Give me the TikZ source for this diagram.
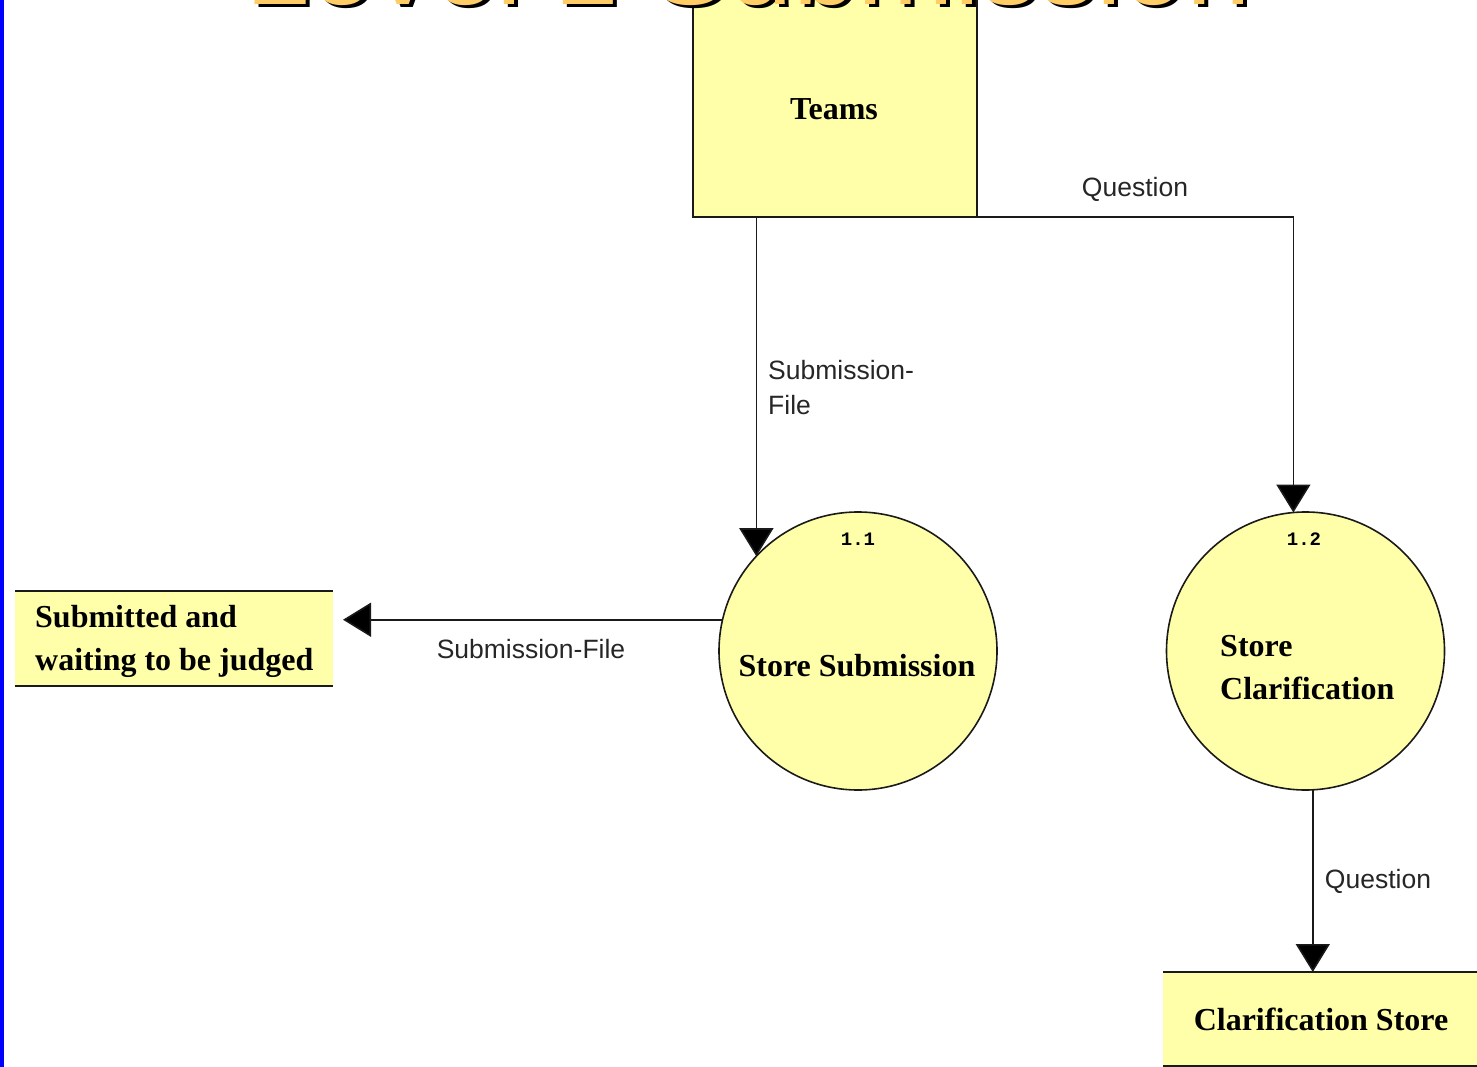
\documentclass[tikz,border=0pt]{standalone}
\usepackage{fontspec}
\setmainfont{Liberation Serif}
\setsansfont{Liberation Sans}
\setmonofont{Liberation Mono}
\usetikzlibrary{arrows.meta}
\definecolor{boxfill}{HTML}{FFFFAA}
\definecolor{titleor}{HTML}{FFCC66}
\definecolor{edgecol}{HTML}{1A1A1A}
\definecolor{barblue}{HTML}{0000FF}
\tikzset{
  entity/.style={draw=edgecol, line width=1.6pt, fill=boxfill, inner sep=0pt, outer sep=0pt},
  procnode/.style={circle, draw=edgecol, line width=1.6pt, fill=boxfill, inner sep=0pt, outer sep=0pt, minimum size=278pt},
  storenode/.style={fill=boxfill, inner sep=0pt, outer sep=0pt},
  storeline/.style={draw=edgecol, line width=1.6pt},
  bigtxt/.style={font=\bfseries\fontsize{32}{43}\selectfont, inner sep=0pt},
  flowlbl/.style={font=\sffamily\fontsize{26.5}{35}\selectfont, text=black!85, inner sep=0pt},
  numlbl/.style={font=\ttfamily\bfseries\fontsize{19}{19}\selectfont, inner sep=0pt},
  flow/.style={draw=edgecol, line width=1.6pt, -{Triangle[width=34pt,length=28pt,fill=black]}},
  titletxt/.style={font=\sffamily\fontsize{116}{116}\selectfont, inner sep=0pt, anchor=base west}
}
\begin{document}
\begin{tikzpicture}[x=1pt,y=-1pt]
\useasboundingbox (0,0) rectangle (1477,1067);
\clip (0,0) rectangle (1477,1067);

% left blue bar
\fill[barblue] (0,0) rectangle (4,1067);

% Teams external entity
\node[entity, minimum width=284pt, minimum height=260pt, anchor=south west] (teams) at (693,217) {};
\node[bigtxt] (teamslbl) at (834,109) {Teams};

% processes
\node[procnode] (p1) at (858,651) {};
\node[procnode] (p2) at (1305.5,651) {};
\node[numlbl] (n1) at (858,539) {1.1};
\node[numlbl] (n2) at (1304,539) {1.2};
\node[bigtxt] (p1lbl) at (857,666) {Store Submission};
\node[bigtxt, align=left, anchor=west] (p2lbl) at (1220,668) {Store\\Clarification};

% data stores
\node[storenode, minimum width=318pt, minimum height=95pt] (s1) at (174,638.5) {};
\draw[storeline] (s1.north west) -- (s1.north east);
\draw[storeline] (s1.south west) -- (s1.south east);
\node[bigtxt, align=left, anchor=west] (s1lbl) at (35,641) {Submitted and\\waiting to be judged};

\node[storenode, minimum width=330pt, minimum height=94pt, anchor=north west] (s2) at (1163,972) {};
\draw[storeline] (s2.north west) -- (s2.north east);
\draw[storeline] (s2.south west) -- (s2.south east);
\node[bigtxt] (s2lbl) at (1321,1019) {Clarification Store};

% flows
\draw[flow] (teams.south -| p1.137.3) -- (p1.137.3);
\node[flowlbl, align=left, anchor=north west] (f1lbl) at (768,360) {Submission-\\File};

\draw[flow] (teams.south east) -| (p2.95);
\node[flowlbl] (f2lbl) at (1135,189) {Question};

\draw[flow, shorten >=10pt] (p1.167.6) -- (s1.east |- p1.167.6);
\node[flowlbl] (f3lbl) at (531,649) {Submission-File};

\draw[flow] (p2.-87.2) -- (s2.north -| p2.-87.2);
\node[flowlbl] (f4lbl) at (1378,881) {Question};

% clipped title
\node[titletxt, text=black] (titleshadow) at (249,8) {Level 1 Submission};
\node[titletxt, text=titleor] (title) at (245,4.5) {Level 1 Submission};
\end{tikzpicture}
\end{document}
